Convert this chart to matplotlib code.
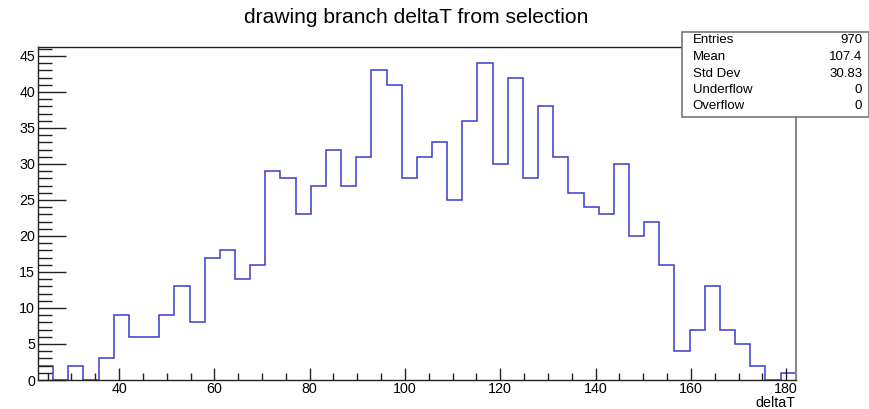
import matplotlib.pyplot as plt
from matplotlib.patches import Rectangle
from matplotlib.ticker import MultipleLocator
import numpy as np

plt.rcParams['font.family'] = ['Liberation Sans', 'DejaVu Sans']

# histogram of deltaT, 50 bins
bin_lo = 23.0
bin_hi = 182.0
counts = [2, 0, 2, 0, 3, 9, 6, 6, 9, 13,
          8, 17, 18, 14, 16, 29, 28, 23, 27, 32,
          27, 31, 43, 41, 28, 31, 33, 25, 36, 44,
          30, 42, 28, 38, 31, 26, 24, 23, 30, 20,
          22, 16, 4, 7, 13, 7, 5, 2, 0, 1]

stat_names = ["Entries", "Mean", "Std Dev", "Underflow", "Overflow"]
stat_values = ["970", "107.4", "30.83", "0", "0"]

edges = np.linspace(bin_lo, bin_hi, len(counts) + 1)

fig = plt.figure(figsize=(8.7, 4.09), dpi=100)
ax = fig.add_axes([0.0437, 0.0709, 0.8709, 0.8134])

ax.stairs(counts, edges, color='#3a3ad0', linewidth=1.1)

ax.set_xlim(bin_lo, bin_hi)
ax.set_ylim(0, max(counts) * 1.05)

ax.xaxis.set_major_locator(MultipleLocator(20))
ax.xaxis.set_minor_locator(MultipleLocator(5))
ax.yaxis.set_major_locator(MultipleLocator(5))
ax.yaxis.set_minor_locator(MultipleLocator(1))

ax.tick_params(axis='both', which='both', direction='in', labelsize=10.3,
               width=1, color='#222222')
ax.tick_params(axis='y', which='major', length=20, pad=2)
ax.tick_params(axis='y', which='minor', length=10)
ax.tick_params(axis='x', which='major', length=8.5, pad=1.5)
ax.tick_params(axis='x', which='minor', length=5)

for side in ['left', 'bottom', 'top']:
    ax.spines[side].set_color('#222222')
    ax.spines[side].set_linewidth(1)
ax.spines['right'].set_color('#888888')
ax.spines['right'].set_linewidth(1.5)

fig.text(795 / 870, 1 - 407 / 409, "deltaT", fontsize=10.3, ha='right', va='baseline')

fig.text(0.478, 0.956, "drawing branch deltaT from selection",
         fontsize=15.1, ha='center', va='center')

# stats box
box = Rectangle((0.7836, 0.7147), 0.2164 - 0.001, 0.2063, transform=fig.transFigure,
                facecolor='white', edgecolor='#777777', linewidth=1.2, zorder=5)
fig.add_artist(box)
row_y = [40, 57.3, 73.7, 90.3, 106.3]
for name, val, y in zip(stat_names, stat_values, row_y):
    fig.text(692.7 / 870, 1 - y / 409, name, fontsize=9.5, ha='left', va='center', zorder=6)
    fig.text(862.3 / 870, 1 - y / 409, val, fontsize=9.5, ha='right', va='center', zorder=6)

fig.savefig("out.png", dpi=100)
